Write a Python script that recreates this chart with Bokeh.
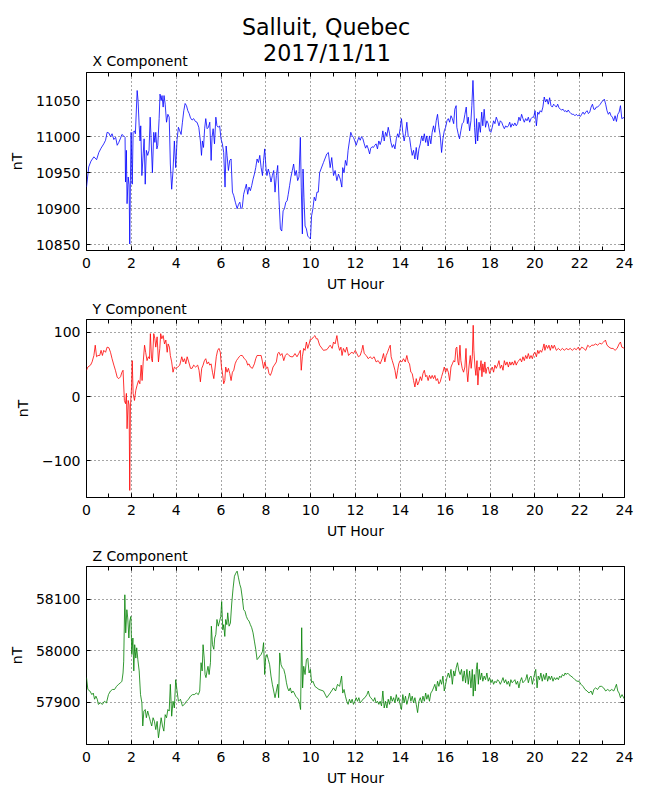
from bokeh.plotting import figure
from bokeh.layouts import column
from bokeh.models import (Range1d, LinearAxis, SingleIntervalTicker, FixedTicker,
                          CustomJSTickFormatter)
from bokeh.core.properties import value
from bokeh.embed import file_html
from bokeh.resources import INLINE

# ---------------- data (UT hour, nT) ----------------
MAIN_TITLE = ["Salluit, Quebec", "2017/11/11"]
PANEL_TITLES = ["X Component", "Y Component", "Z Component"]
X_LABEL = "UT Hour"
Y_LABEL = "nT"

x_component = [
    (0.00, 10930), (0.10, 10958), (0.20, 10966), (0.33, 10972), (0.45, 10968), (0.55, 10978),
    (0.65, 10984), (0.77, 10990), (0.85, 10995), (0.92, 11006), (1.00, 11005), (1.07, 11000),
    (1.14, 11004), (1.22, 10996), (1.30, 10999), (1.37, 10988), (1.44, 10992), (1.52, 10998),
    (1.58, 11003), (1.66, 11001), (1.72, 10999), (1.74, 10937), (1.78, 10981), (1.81, 10907),
    (1.86, 10944), (1.90, 10933), (1.93, 10851), (1.96, 10939), (1.99, 11006), (2.04, 10934),
    (2.08, 11006), (2.14, 11008), (2.18, 11004), (2.26, 11064), (2.30, 11050), (2.35, 11015),
    (2.39, 10994), (2.42, 11015), (2.47, 10946), (2.53, 10976), (2.57, 10997), (2.62, 10934),
    (2.67, 10981), (2.73, 10974), (2.79, 10981), (2.84, 11027), (2.88, 10999), (2.94, 10950),
    (3.00, 11006), (3.05, 10992), (3.09, 11006), (3.14, 10983), (3.18, 10988), (3.24, 11025),
    (3.28, 11059), (3.33, 11050), (3.37, 11057), (3.42, 11041), (3.46, 11057), (3.51, 11045),
    (3.57, 11020), (3.63, 11031), (3.69, 11027), (3.74, 10962), (3.80, 10927), (3.86, 10953),
    (3.92, 10994), (3.98, 10957), (4.04, 10996), (4.10, 11013), (4.16, 11008), (4.22, 11003),
    (4.28, 11020), (4.34, 11036), (4.40, 11046), (4.46, 11043), (4.52, 11036), (4.58, 11032),
    (4.64, 11026), (4.71, 11023), (4.78, 11025), (4.86, 11021), (4.93, 11020), (5.01, 11013),
    (5.08, 10994), (5.13, 10974), (5.17, 10994), (5.22, 10985), (5.27, 11011), (5.32, 11025),
    (5.38, 11011), (5.44, 11013), (5.50, 11020), (5.56, 10967), (5.60, 10999), (5.65, 11011),
    (5.71, 10990), (5.77, 11027), (5.82, 11015), (5.88, 11013), (5.94, 11015), (6.00, 10997),
    (6.06, 10990), (6.12, 10978), (6.18, 10930), (6.23, 10987), (6.27, 10974), (6.33, 10953),
    (6.39, 10967), (6.45, 10969), (6.51, 10923), (6.57, 10918), (6.64, 10909), (6.72, 10900),
    (6.78, 10906), (6.84, 10909), (6.89, 10900), (6.95, 10902), (7.01, 10920), (7.07, 10927),
    (7.13, 10934), (7.19, 10920), (7.25, 10930), (7.31, 10925), (7.37, 10932), (7.43, 10941),
    (7.49, 10948), (7.55, 10957), (7.61, 10969), (7.67, 10964), (7.73, 10974), (7.79, 10957),
    (7.85, 10946), (7.90, 10967), (7.95, 10983), (8.01, 10955), (8.05, 10946), (8.11, 10955),
    (8.17, 10948), (8.23, 10937), (8.29, 10946), (8.35, 10953), (8.41, 10923), (8.47, 10946),
    (8.53, 10960), (8.59, 10911), (8.65, 10872), (8.71, 10869), (8.77, 10897), (8.83, 10900),
    (8.89, 10909), (8.95, 10911), (9.00, 10920), (9.06, 10932), (9.12, 10944), (9.18, 10953),
    (9.24, 10962), (9.30, 10946), (9.36, 10953), (9.42, 10939), (9.48, 10944), (9.54, 10999),
    (9.58, 10930), (9.63, 10865), (9.66, 10955), (9.70, 10916), (9.75, 10876), (9.81, 10872),
    (9.87, 10862), (9.93, 10860), (9.99, 10858), (10.04, 10890), (10.10, 10900), (10.16, 10916),
    (10.22, 10911), (10.28, 10923), (10.34, 10923), (10.40, 10950), (10.57, 10964), (10.72, 10976),
    (10.79, 10978), (10.87, 10957), (10.94, 10971), (11.02, 10946), (11.09, 10953), (11.17, 10939),
    (11.24, 10948), (11.32, 10941), (11.39, 10930), (11.43, 10957), (11.49, 10950), (11.55, 10967),
    (11.61, 10960), (11.67, 10981), (11.73, 10994), (11.79, 11006), (11.85, 11001), (11.91, 10999),
    (11.97, 10994), (12.03, 10988), (12.09, 10994), (12.15, 10999), (12.21, 10995), (12.27, 11000),
    (12.33, 10997), (12.39, 10990), (12.45, 10984), (12.51, 10988), (12.57, 10983), (12.63, 10976),
    (12.68, 10984), (12.74, 10986), (12.80, 10985), (12.86, 10988), (12.92, 10990), (12.98, 10983),
    (13.04, 10994), (13.10, 10989), (13.16, 10995), (13.22, 11008), (13.28, 10994), (13.34, 11006),
    (13.40, 11001), (13.46, 11013), (13.52, 11004), (13.58, 10992), (13.64, 10985), (13.70, 10989),
    (13.76, 10983), (13.82, 10997), (13.88, 11004), (13.93, 10999), (13.99, 11011), (14.05, 11025),
    (14.11, 11006), (14.17, 10994), (14.23, 11004), (14.29, 11020), (14.35, 11001), (14.41, 10999),
    (14.47, 10985), (14.53, 10974), (14.59, 10981), (14.65, 10969), (14.71, 10985), (14.77, 10968),
    (14.83, 10983), (14.89, 10990), (14.95, 11001), (15.01, 10994), (15.07, 11004), (15.13, 10992),
    (15.18, 11001), (15.24, 10987), (15.30, 11001), (15.36, 10990), (15.42, 11006), (15.48, 11015),
    (15.54, 11006), (15.60, 11022), (15.66, 11031), (15.72, 11013), (15.78, 11001), (15.84, 10978),
    (15.90, 10997), (15.96, 11008), (16.02, 11013), (16.08, 11022), (16.14, 11025), (16.20, 11020),
    (16.26, 11029), (16.32, 11025), (16.38, 11018), (16.43, 11038), (16.49, 11043), (16.52, 11013),
    (16.58, 11004), (16.64, 10997), (16.70, 11008), (16.76, 11018), (16.82, 11020), (16.88, 11031),
    (16.94, 11041), (16.99, 11018), (17.03, 11027), (17.09, 11008), (17.15, 11022), (17.19, 11043),
    (17.24, 11078), (17.27, 11055), (17.31, 11013), (17.36, 10990), (17.40, 11025), (17.45, 10994),
    (17.51, 11020), (17.57, 11006), (17.63, 11034), (17.68, 11015), (17.74, 11038), (17.80, 11013),
    (17.86, 11022), (17.92, 11018), (17.98, 11008), (18.04, 11006), (18.10, 11013), (18.16, 11022),
    (18.22, 11018), (18.28, 11027), (18.34, 11022), (18.40, 11015), (18.46, 11022), (18.52, 11020),
    (18.58, 11015), (18.64, 11011), (18.70, 11015), (18.76, 11013), (18.82, 11015), (18.88, 11020),
    (18.93, 11013), (18.99, 11018), (19.05, 11015), (19.11, 11019), (19.17, 11015), (19.23, 11018),
    (19.29, 11027), (19.35, 11022), (19.41, 11031), (19.47, 11025), (19.53, 11020), (19.59, 11025),
    (19.65, 11022), (19.71, 11027), (19.77, 11020), (19.83, 11025), (19.89, 11027), (19.95, 11027),
    (20.01, 11036), (20.07, 11015), (20.13, 11034), (20.18, 11031), (20.24, 11036), (20.30, 11034),
    (20.36, 11041), (20.42, 11055), (20.48, 11048), (20.54, 11052), (20.60, 11045), (20.66, 11054),
    (20.72, 11043), (20.78, 11041), (20.84, 11045), (20.90, 11043), (20.96, 11041), (21.02, 11045),
    (21.08, 11040), (21.14, 11038), (21.20, 11037), (21.26, 11038), (21.32, 11035), (21.38, 11036),
    (21.43, 11034), (21.49, 11037), (21.55, 11034), (21.61, 11032), (21.67, 11031), (21.73, 11031),
    (21.79, 11029), (21.85, 11031), (21.91, 11029), (21.97, 11030), (22.03, 11028), (22.09, 11031),
    (22.15, 11034), (22.21, 11031), (22.27, 11034), (22.33, 11036), (22.39, 11032), (22.45, 11034),
    (22.51, 11041), (22.57, 11045), (22.63, 11038), (22.69, 11038), (22.74, 11041), (22.80, 11041),
    (22.86, 11043), (22.92, 11045), (22.98, 11048), (23.04, 11050), (23.10, 11052), (23.16, 11045),
    (23.22, 11036), (23.28, 11031), (23.34, 11034), (23.40, 11029), (23.46, 11027), (23.52, 11022),
    (23.58, 11029), (23.64, 11021), (23.70, 11031), (23.76, 11034), (23.82, 11043), (23.88, 11025),
    (24.00, 11027),
]

y_component = [
    (0.00, 41), (0.06, 46), (0.18, 49), (0.25, 54), (0.33, 64), (0.39, 80), (0.45, 62), (0.51, 64),
    (0.59, 64), (0.65, 72), (0.71, 64), (0.77, 72), (0.85, 69), (0.92, 77), (1.00, 76), (1.07, 69),
    (1.14, 59), (1.22, 49), (1.29, 41), (1.37, 30), (1.44, 28), (1.52, 31), (1.58, 38), (1.63, 41),
    (1.69, -6), (1.74, -11), (1.78, 5), (1.81, -50), (1.86, -6), (1.90, -13), (1.93, -146), (1.96, -16),
    (2.01, 15), (2.04, 56), (2.08, 5), (2.14, -6), (2.20, 10), (2.26, 18), (2.32, 25), (2.38, 20),
    (2.44, 49), (2.48, 25), (2.53, 54), (2.59, 80), (2.64, 69), (2.70, 56), (2.76, 62), (2.81, 59),
    (2.85, 98), (2.90, 59), (2.94, 54), (3.00, 98), (3.05, 90), (3.09, 77), (3.15, 93), (3.21, 54),
    (3.27, 75), (3.31, 98), (3.36, 90), (3.42, 95), (3.48, 82), (3.54, 88), (3.60, 69), (3.64, 82),
    (3.70, 77), (3.74, 64), (3.80, 54), (3.86, 38), (3.92, 46), (3.98, 44), (4.07, 46), (4.16, 49),
    (4.25, 62), (4.31, 54), (4.37, 59), (4.43, 51), (4.49, 62), (4.56, 54), (4.64, 44), (4.71, 44),
    (4.78, 49), (4.87, 46), (4.96, 49), (5.02, 41), (5.08, 23), (5.14, 44), (5.20, 49), (5.26, 56),
    (5.32, 59), (5.38, 51), (5.44, 54), (5.50, 49), (5.56, 51), (5.62, 38), (5.68, 28), (5.74, 46),
    (5.79, 62), (5.85, 72), (5.91, 75), (5.97, 69), (6.02, 46), (6.06, 38), (6.12, 20), (6.17, 25),
    (6.21, 46), (6.27, 38), (6.33, 44), (6.39, 36), (6.45, 25), (6.51, 38), (6.57, 41), (6.63, 51),
    (6.69, 56), (6.75, 59), (6.81, 62), (6.87, 64), (6.95, 64), (7.04, 59), (7.13, 56), (7.19, 49),
    (7.25, 51), (7.31, 46), (7.40, 44), (7.49, 51), (7.55, 59), (7.61, 64), (7.70, 64), (7.79, 64),
    (7.85, 54), (7.90, 44), (7.96, 54), (8.02, 44), (8.08, 46), (8.14, 36), (8.20, 33), (8.26, 38),
    (8.32, 46), (8.38, 49), (8.47, 54), (8.53, 67), (8.59, 69), (8.65, 64), (8.72, 67), (8.80, 56),
    (8.87, 64), (8.95, 67), (9.03, 64), (9.12, 62), (9.21, 62), (9.30, 67), (9.39, 62), (9.47, 67),
    (9.54, 72), (9.58, 41), (9.63, 62), (9.69, 75), (9.75, 72), (9.81, 85), (9.87, 75), (9.93, 82),
    (9.99, 90), (10.04, 89), (10.13, 93), (10.19, 95), (10.25, 90), (10.31, 90), (10.40, 80),
    (10.57, 72), (10.72, 73), (10.87, 80), (10.96, 75), (11.02, 85), (11.09, 82), (11.17, 95),
    (11.23, 80), (11.29, 72), (11.35, 77), (11.40, 64), (11.46, 75), (11.54, 69), (11.61, 77),
    (11.69, 64), (11.76, 67), (11.84, 69), (11.91, 67), (11.99, 72), (12.06, 67), (12.13, 62),
    (12.21, 64), (12.28, 72), (12.33, 80), (12.39, 67), (12.48, 64), (12.57, 59), (12.65, 62),
    (12.74, 59), (12.83, 62), (12.92, 54), (13.01, 56), (13.10, 51), (13.19, 59), (13.25, 67),
    (13.31, 54), (13.37, 64), (13.43, 69), (13.49, 75), (13.55, 80), (13.59, 62), (13.64, 56),
    (13.70, 49), (13.76, 41), (13.82, 28), (13.88, 41), (13.93, 51), (13.99, 56), (14.07, 54),
    (14.14, 59), (14.22, 54), (14.29, 64), (14.35, 54), (14.41, 51), (14.47, 38), (14.53, 36),
    (14.59, 25), (14.65, 15), (14.71, 28), (14.77, 18), (14.83, 23), (14.89, 31), (14.95, 25),
    (15.01, 36), (15.07, 41), (15.13, 31), (15.18, 33), (15.24, 25), (15.30, 33), (15.36, 28),
    (15.42, 33), (15.48, 28), (15.54, 33), (15.60, 25), (15.66, 28), (15.72, 20), (15.78, 23),
    (15.84, 31), (15.90, 38), (15.96, 46), (16.02, 38), (16.08, 44), (16.14, 38), (16.20, 25),
    (16.26, 46), (16.32, 51), (16.38, 56), (16.43, 54), (16.48, 75), (16.52, 77), (16.57, 54),
    (16.61, 49), (16.66, 80), (16.70, 56), (16.76, 44), (16.82, 38), (16.88, 46), (16.93, 75),
    (16.97, 38), (17.01, 23), (17.06, 46), (17.12, 64), (17.16, 44), (17.21, 62), (17.25, 111),
    (17.28, 72), (17.33, 46), (17.37, 33), (17.42, 56), (17.46, 18), (17.51, 46), (17.55, 41),
    (17.60, 56), (17.64, 31), (17.68, 51), (17.73, 38), (17.77, 54), (17.82, 36), (17.86, 44),
    (17.92, 46), (17.98, 36), (18.04, 41), (18.10, 46), (18.16, 38), (18.22, 49), (18.28, 44),
    (18.34, 49), (18.40, 56), (18.46, 44), (18.52, 49), (18.58, 41), (18.64, 56), (18.70, 49),
    (18.76, 54), (18.82, 46), (18.88, 54), (18.93, 49), (18.99, 54), (19.05, 49), (19.11, 56),
    (19.17, 49), (19.23, 54), (19.29, 56), (19.35, 59), (19.41, 54), (19.47, 62), (19.53, 56),
    (19.59, 64), (19.65, 59), (19.71, 67), (19.77, 59), (19.83, 64), (19.89, 59), (19.95, 67),
    (20.01, 69), (20.07, 62), (20.13, 72), (20.18, 67), (20.24, 72), (20.30, 69), (20.36, 75),
    (20.41, 82), (20.45, 72), (20.51, 80), (20.57, 75), (20.63, 80), (20.69, 72), (20.75, 80),
    (20.81, 75), (20.87, 80), (20.96, 72), (21.05, 75), (21.14, 72), (21.23, 75), (21.32, 72),
    (21.40, 75), (21.49, 73), (21.58, 75), (21.67, 72), (21.76, 75), (21.85, 73), (21.94, 77),
    (22.00, 72), (22.09, 77), (22.18, 75), (22.27, 72), (22.36, 80), (22.45, 77), (22.54, 80),
    (22.63, 80), (22.71, 82), (22.80, 80), (22.89, 83), (22.98, 82), (23.07, 85), (23.15, 88),
    (23.22, 80), (23.31, 77), (23.40, 75), (23.49, 75), (23.58, 72), (23.67, 75), (23.76, 82),
    (23.82, 85), (23.88, 77), (24.00, 75),
]

z_component = [
    (0.00, 57948), (0.06, 57925), (0.15, 57922), (0.24, 57915), (0.30, 57918), (0.36, 57906),
    (0.42, 57912), (0.48, 57906), (0.53, 57896), (0.62, 57899), (0.71, 57896), (0.80, 57902),
    (0.89, 57899), (0.98, 57915), (1.07, 57922), (1.16, 57925), (1.25, 57925), (1.34, 57931),
    (1.43, 57935), (1.52, 57938), (1.58, 57941), (1.63, 57957), (1.66, 57980), (1.71, 58109),
    (1.75, 58035), (1.80, 58080), (1.84, 58064), (1.89, 58025), (1.93, 58058), (1.98, 58067),
    (2.02, 57993), (2.07, 58025), (2.11, 57961), (2.15, 58012), (2.20, 57986), (2.24, 58006),
    (2.29, 57983), (2.35, 57961), (2.41, 57915), (2.47, 57899), (2.51, 57854), (2.56, 57883),
    (2.62, 57886), (2.67, 57870), (2.73, 57883), (2.79, 57873), (2.85, 57863), (2.91, 57854),
    (2.97, 57870), (3.03, 57863), (3.09, 57847), (3.15, 57863), (3.21, 57831), (3.27, 57850),
    (3.33, 57870), (3.39, 57854), (3.45, 57844), (3.51, 57876), (3.57, 57870), (3.63, 57886),
    (3.69, 57883), (3.74, 57935), (3.80, 57873), (3.86, 57902), (3.92, 57889), (3.98, 57944),
    (4.04, 57922), (4.10, 57902), (4.19, 57906), (4.28, 57893), (4.37, 57896), (4.46, 57902),
    (4.55, 57906), (4.64, 57912), (4.73, 57915), (4.81, 57915), (4.90, 57918), (4.99, 57915),
    (5.05, 57922), (5.11, 57977), (5.16, 57961), (5.20, 58012), (5.25, 57986), (5.29, 57954),
    (5.33, 57948), (5.38, 57961), (5.42, 57970), (5.47, 57954), (5.53, 57977), (5.57, 58048),
    (5.62, 58012), (5.68, 58003), (5.72, 58025), (5.77, 58032), (5.82, 58061), (5.88, 58048),
    (5.94, 58058), (5.99, 58067), (6.03, 58096), (6.08, 58041), (6.12, 58051), (6.17, 58028),
    (6.21, 58061), (6.26, 58051), (6.30, 58074), (6.36, 58048), (6.42, 58054), (6.48, 58093),
    (6.54, 58122), (6.60, 58145), (6.66, 58151), (6.72, 58155), (6.78, 58142), (6.84, 58129),
    (6.89, 58122), (6.95, 58103), (7.01, 58080), (7.07, 58077), (7.13, 58067), (7.19, 58061),
    (7.25, 58058), (7.31, 58051), (7.37, 58045), (7.43, 58035), (7.49, 58019), (7.55, 58003),
    (7.61, 57983), (7.67, 57986), (7.73, 57990), (7.79, 57993), (7.85, 57999), (7.90, 58016),
    (7.95, 57954), (7.99, 57986), (8.05, 57993), (8.11, 57983), (8.17, 57973), (8.23, 57951),
    (8.29, 57935), (8.35, 57922), (8.41, 57909), (8.47, 57922), (8.53, 57935), (8.57, 57909),
    (8.62, 57996), (8.68, 57973), (8.74, 57967), (8.80, 57964), (8.86, 57954), (8.92, 57938),
    (8.97, 57928), (9.03, 57922), (9.09, 57928), (9.15, 57918), (9.21, 57922), (9.27, 57918),
    (9.33, 57912), (9.39, 57909), (9.45, 57906), (9.51, 57896), (9.55, 57886), (9.60, 58045),
    (9.64, 57928), (9.69, 57970), (9.75, 57954), (9.81, 57983), (9.87, 57986), (9.93, 57957),
    (9.99, 57964), (10.04, 57938), (10.10, 57941), (10.19, 57931), (10.28, 57928), (10.37, 57925),
    (10.57, 57922), (10.72, 57909), (10.87, 57918), (11.02, 57928), (11.11, 57922), (11.20, 57935),
    (11.29, 57931), (11.38, 57951), (11.43, 57918), (11.49, 57925), (11.55, 57912), (11.61, 57902),
    (11.67, 57896), (11.73, 57906), (11.79, 57899), (11.85, 57906), (11.91, 57896), (11.97, 57902),
    (12.03, 57909), (12.09, 57902), (12.15, 57909), (12.21, 57899), (12.27, 57902), (12.33, 57906),
    (12.42, 57909), (12.51, 57915), (12.57, 57922), (12.63, 57912), (12.68, 57909), (12.74, 57906),
    (12.80, 57902), (12.86, 57909), (12.92, 57899), (12.98, 57902), (13.04, 57896), (13.10, 57902),
    (13.16, 57893), (13.22, 57922), (13.28, 57889), (13.34, 57902), (13.40, 57889), (13.46, 57906),
    (13.52, 57896), (13.58, 57912), (13.64, 57902), (13.70, 57909), (13.76, 57899), (13.82, 57915),
    (13.88, 57902), (13.93, 57909), (13.99, 57896), (14.05, 57886), (14.11, 57915), (14.17, 57899),
    (14.23, 57912), (14.29, 57896), (14.35, 57906), (14.41, 57918), (14.47, 57902), (14.53, 57912),
    (14.59, 57899), (14.65, 57909), (14.71, 57896), (14.77, 57880), (14.83, 57902), (14.89, 57909),
    (14.95, 57899), (15.01, 57912), (15.07, 57902), (15.13, 57918), (15.18, 57906), (15.24, 57915),
    (15.30, 57902), (15.36, 57918), (15.42, 57922), (15.48, 57928), (15.54, 57935), (15.60, 57922),
    (15.66, 57941), (15.72, 57931), (15.78, 57944), (15.84, 57935), (15.90, 57951), (15.96, 57922),
    (16.02, 57935), (16.08, 57948), (16.14, 57957), (16.20, 57948), (16.26, 57964), (16.32, 57935),
    (16.38, 57961), (16.43, 57951), (16.49, 57967), (16.55, 57977), (16.61, 57961), (16.67, 57954),
    (16.73, 57964), (16.79, 57941), (16.85, 57961), (16.91, 57938), (16.97, 57964), (17.03, 57935),
    (17.09, 57961), (17.15, 57928), (17.21, 57964), (17.25, 57912), (17.30, 57954), (17.34, 57922),
    (17.39, 57964), (17.43, 57977), (17.48, 57935), (17.52, 57964), (17.57, 57944), (17.63, 57957),
    (17.68, 57941), (17.74, 57951), (17.80, 57944), (17.86, 57957), (17.92, 57941), (17.98, 57948),
    (18.04, 57938), (18.10, 57944), (18.16, 57935), (18.22, 57941), (18.28, 57938), (18.34, 57944),
    (18.40, 57941), (18.46, 57935), (18.52, 57941), (18.58, 57948), (18.64, 57938), (18.70, 57944),
    (18.76, 57935), (18.82, 57941), (18.88, 57931), (18.93, 57944), (18.99, 57938), (19.05, 57941),
    (19.11, 57944), (19.17, 57935), (19.23, 57941), (19.29, 57928), (19.35, 57941), (19.41, 57948),
    (19.47, 57938), (19.53, 57941), (19.59, 57944), (19.65, 57954), (19.71, 57938), (19.77, 57948),
    (19.83, 57951), (19.89, 57935), (19.95, 57948), (20.04, 57964), (20.10, 57928), (20.15, 57951),
    (20.21, 57944), (20.27, 57957), (20.33, 57941), (20.39, 57954), (20.45, 57944), (20.51, 57957),
    (20.57, 57941), (20.63, 57951), (20.69, 57944), (20.75, 57951), (20.81, 57941), (20.87, 57948),
    (20.93, 57944), (20.99, 57948), (21.05, 57944), (21.11, 57951), (21.17, 57948), (21.23, 57954),
    (21.29, 57951), (21.35, 57957), (21.40, 57954), (21.46, 57957), (21.52, 57954), (21.61, 57951),
    (21.70, 57948), (21.79, 57944), (21.88, 57941), (21.97, 57941), (22.06, 57935), (22.15, 57931),
    (22.24, 57925), (22.33, 57922), (22.42, 57918), (22.51, 57922), (22.57, 57915), (22.63, 57925),
    (22.71, 57928), (22.80, 57925), (22.89, 57931), (22.98, 57931), (23.07, 57928), (23.16, 57922),
    (23.25, 57925), (23.34, 57922), (23.43, 57925), (23.52, 57922), (23.58, 57928), (23.64, 57935),
    (23.70, 57922), (23.76, 57918), (23.82, 57909), (23.89, 57915), (24.00, 57906),
]

x_comp_ticks = [10850, 10900, 10950, 11000, 11050]
y_comp_ticks = [-100, 0, 100]
z_comp_ticks = [57900, 58000, 58100]

x_comp_range = (10842, 11089)
y_comp_range = (-157, 120)
z_comp_range = (57818, 58164)

# ---------------- styling ----------------
FONT = "DejaVu Sans"
FS = "14px"
FRAME_W = 538
FRAME_H = 178
LEFT = 86
RIGHT = 18


def make_panel(data, color, title, yrange, yticks, top, bottom, minus=False):
    p = figure(frame_width=FRAME_W, frame_height=FRAME_H, x_range=Range1d(0, 24),
               y_range=Range1d(*yrange), output_backend="svg", toolbar_location=None,
               min_border_left=LEFT, min_border_right=RIGHT,
               min_border_top=top, min_border_bottom=bottom, title=title)
    if title is not None:
        p.title.align = "left"
        p.title.offset = 6
        p.title.standoff = 5
        p.title.text_font = FONT
        p.title.text_font_size = FS
        p.title.text_font_style = "normal"
        p.title.text_color = "black"

    t = [d[0] for d in data]
    v = [d[1] for d in data]
    p.line(t, v, line_color=color, line_width=0.8)

    p.outline_line_color = "black"
    p.outline_line_width = 1
    p.background_fill_color = "white"
    p.border_fill_color = "white"

    xt = SingleIntervalTicker(interval=2, num_minor_ticks=2)
    yt = FixedTicker(ticks=yticks)

    xa = p.xaxis[0]
    xa.ticker = xt
    xa.axis_label = X_LABEL
    ya = p.yaxis[0]
    ya.ticker = yt
    ya.axis_label = Y_LABEL
    if minus:
        ya.formatter = CustomJSTickFormatter(
            code="return tick < 0 ? '\\u2212' + (-tick) : String(tick);")

    for ax in (xa, ya):
        ax.axis_line_color = None
        ax.major_tick_in = 4
        ax.major_tick_out = 0
        ax.minor_tick_in = 4
        ax.minor_tick_out = 0
        ax.major_tick_line_color = "black"
        ax.minor_tick_line_color = "black"
        ax.major_label_text_font = FONT
        ax.major_label_text_font_size = FS
        ax.major_label_text_color = "black"
        ax.axis_label_text_font = FONT
        ax.axis_label_text_font_size = FS
        ax.axis_label_text_font_style = "normal"
        ax.axis_label_text_color = "black"
    ya.minor_tick_line_color = None
    xa.major_label_standoff = 7
    xa.axis_label_standoff = 5
    ya.major_label_standoff = 6
    ya.axis_label_standoff = 8

    top_ax = LinearAxis(ticker=SingleIntervalTicker(interval=2, num_minor_ticks=2),
                        major_label_text_font_size="0px", major_label_text_color=None,
                        major_label_standoff=0,
                        major_tick_in=4, major_tick_out=0, minor_tick_in=4, minor_tick_out=0,
                        axis_line_color=None)
    right_ax = LinearAxis(ticker=FixedTicker(ticks=yticks),
                          major_label_text_font_size="0px", major_label_text_color=None,
                          major_label_standoff=0,
                          major_tick_in=4, major_tick_out=0, minor_tick_line_color=None,
                          axis_line_color=None)
    p.add_layout(top_ax, "above")
    p.add_layout(right_ax, "right")

    p.grid.grid_line_color = "black"
    p.grid.grid_line_dash = "1 3"
    p.grid.grid_line_width = 0.7
    p.xgrid.ticker = xt
    p.ygrid.ticker = yt
    return p


# header strip: figure-centred main title plus the first panel's title.
# Its frame is aligned with the panels' frames (page x 86..624, page y 0..72),
# so the ranges are set to page pixels.
HEAD_H = 72
head = figure(frame_width=FRAME_W, height=HEAD_H, x_range=Range1d(LEFT, LEFT + FRAME_W),
              y_range=Range1d(HEAD_H, 0), output_backend="svg", toolbar_location=None,
              x_axis_type=None, y_axis_type=None, title=None,
              min_border_left=LEFT, min_border_right=RIGHT, min_border_top=0,
              min_border_bottom=0)
head.outline_line_color = None
head.grid.visible = False
head.text(x=[325.5, 326.5], y=[26.6, 52.3], text=MAIN_TITLE, text_align="center",
          text_baseline="middle", text_font=value(FONT), text_font_size=value("22.2px"),
          text_color="black")
head.text(x=[LEFT + 6], y=[60.9], text=[PANEL_TITLES[0]], text_align="left",
          text_baseline="middle", text_font=value(FONT), text_font_size=value(FS),
          text_color="black")

p1 = make_panel(x_component, "#0000ff", None, x_comp_range, x_comp_ticks, top=0, bottom=45)
p2 = make_panel(y_component, "#ff0000", PANEL_TITLES[1], y_comp_range, y_comp_ticks,
                top=24, bottom=45, minus=True)
p3 = make_panel(z_component, "#008000", PANEL_TITLES[2], z_comp_range, z_comp_ticks,
                top=24, bottom=45)

layout = column(head, p1, p2, p3, spacing=0)

with open("out.html", "w") as f:
    f.write(file_html(layout, INLINE))
